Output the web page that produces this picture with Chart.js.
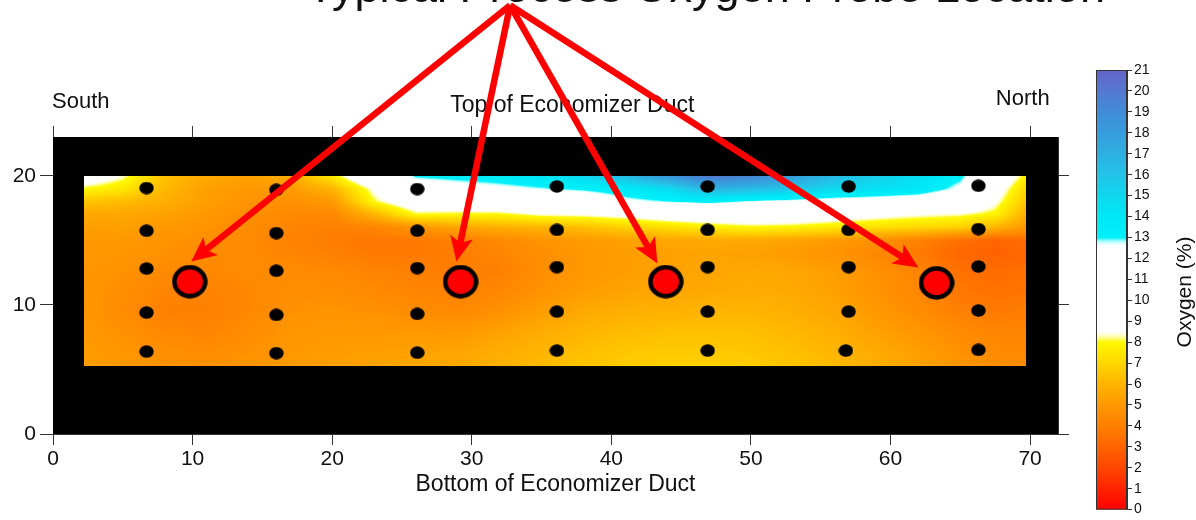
<!DOCTYPE html>
<html>
<head>
<meta charset="utf-8">
<title>Economizer Duct Oxygen</title>
<script src="https://cdn.jsdelivr.net/npm/chart.js@4.4.1/dist/chart.umd.min.js"></script>
<style>
  html, body { margin: 0; padding: 0; background: #fff; }
  #wrap { position: relative; width: 1196px; height: 520px; overflow: hidden; }
  #main { position: absolute; left: 0; top: 0; }
  #bar { position: absolute; left: 1060px; top: 0; }
</style>
</head>
<body>
<div id="wrap">
  <canvas id="main" width="1196" height="520"></canvas>
  <canvas id="bar" width="136" height="520"></canvas>
</div>
<script>
// Contour grid (oxygen %). Rows follow gridY (top to bottom)
const gridX = [2.2, 5, 8, 11, 14, 17, 20, 23, 26, 29, 32, 35, 38, 41, 44, 47, 50, 53, 56, 59, 62, 65, 67.5, 69.7];
const gridY = [20, 19, 18, 17, 16, 15, 14, 12.5, 11, 9.5, 8, 6.5, 5.25];
const oxygen = [
  [9.5, 8.4, 6.4, 5.6, 5.3, 5.8, 7.6, 10.5, 13.1, 13.4, 13.7, 14.2, 15.0, 16.5, 18.5, 20.0, 19.5, 18.0, 16.5, 15.5, 14.5, 13.3, 10.0, 7.8],
  [8.0, 7.5, 6.1, 5.3, 5.0, 5.1, 6.0, 8.6, 11.5, 12.0, 12.4, 12.8, 13.2, 13.8, 14.8, 16.8, 16.5, 15.8, 15.0, 14.5, 14.0, 12.4, 9.2, 7.0],
  [6.5, 6.2, 5.8, 5.2, 4.8, 4.7, 5.0, 8.0, 9.5, 9.8, 10.0, 10.3, 11.0, 12.4, 12.9, 13.3, 12.7, 12.4, 12.0, 11.8, 11.5, 10.5, 8.6, 6.5],
  [5.5, 5.5, 5.3, 5.0, 4.6, 4.4, 4.3, 6.0, 8.0, 7.9, 7.9, 8.4, 8.5, 8.8, 9.3, 9.6, 9.8, 9.6, 9.2, 8.8, 8.5, 8.3, 7.8, 5.8],
  [5.2, 5.3, 5.0, 4.8, 4.5, 4.2, 4.0, 4.2, 4.8, 5.5, 5.8, 6.0, 6.3, 6.8, 7.2, 7.6, 7.9, 7.8, 7.5, 7.2, 7.0, 6.8, 6.0, 5.0],
  [5.0, 5.0, 4.8, 4.6, 4.4, 4.1, 3.9, 3.7, 3.8, 4.0, 4.4, 4.8, 5.1, 5.3, 5.5, 5.6, 5.6, 5.4, 5.1, 4.7, 4.1, 3.4, 3.0, 3.3],
  [5.0, 4.9, 4.7, 4.5, 4.4, 4.2, 4.0, 3.8, 3.8, 3.9, 4.2, 4.6, 5.0, 5.2, 5.3, 5.4, 5.3, 5.1, 4.8, 4.3, 3.8, 3.1, 2.9, 3.1],
  [4.9, 4.7, 4.4, 4.3, 4.4, 4.5, 4.4, 4.2, 4.0, 3.9, 4.0, 4.6, 5.0, 5.2, 5.3, 5.5, 5.6, 5.5, 5.2, 4.7, 4.2, 3.5, 3.3, 3.4],
  [4.9, 4.6, 4.2, 4.1, 4.3, 4.6, 4.6, 4.4, 4.2, 4.1, 4.3, 4.8, 5.2, 5.4, 5.5, 5.6, 5.7, 5.6, 5.3, 4.8, 4.3, 3.7, 3.5, 3.6],
  [4.9, 4.5, 4.0, 4.0, 4.3, 4.7, 4.8, 4.7, 4.5, 4.4, 4.7, 5.2, 5.6, 5.8, 5.9, 6.0, 6.0, 5.8, 5.5, 5.0, 4.5, 4.0, 3.8, 3.9],
  [5.0, 4.7, 4.3, 4.2, 4.5, 4.9, 5.0, 5.0, 5.0, 5.0, 5.3, 5.7, 6.0, 6.2, 6.3, 6.3, 6.3, 6.1, 5.8, 5.3, 4.9, 4.4, 4.2, 4.2],
  [5.1, 4.9, 4.6, 4.5, 4.7, 5.0, 5.1, 5.2, 5.3, 5.4, 5.7, 6.0, 6.3, 6.5, 6.6, 6.6, 6.5, 6.3, 6.0, 5.6, 5.2, 4.7, 4.4, 4.3],
  [5.2, 5.0, 4.8, 4.7, 4.9, 5.1, 5.3, 5.4, 5.5, 5.6, 5.9, 6.2, 6.5, 6.7, 6.8, 6.8, 6.7, 6.5, 6.2, 5.8, 5.4, 4.9, 4.6, 4.5]
];

// Sample grid points (black dots), 5 per traverse
const sampleX = [
  6.7, 6.7, 6.7, 6.7, 6.7,
  16.0, 16.0, 16.0, 16.0, 16.0,
  26.1, 26.1, 26.1, 26.1, 26.1,
  36.1, 36.1, 36.1, 36.1, 36.1,
  46.9, 46.9, 46.9, 46.9, 46.9,
  57.0, 57.0, 57.0, 57.0, 56.8,
  66.3, 66.3, 66.3, 66.3, 66.3
];
const sampleY = [
  19.05, 15.74, 12.81, 9.40, 6.38,
  18.91, 15.56, 12.64, 9.22, 6.26,
  18.97, 15.74, 12.85, 9.30, 6.30,
  19.17, 15.81, 12.92, 9.48, 6.46,
  19.17, 15.81, 12.92, 9.48, 6.46,
  19.17, 15.81, 12.92, 9.48, 6.46,
  19.22, 15.87, 12.97, 9.56, 6.51
];

// Typical process oxygen probe locations
const probeX = [9.8, 29.2, 43.9, 63.3];
const probeY = [11.8, 11.8, 11.8, 11.7];

// Arrow tips and the common start point (chart units)
const arrowTipX = [9.9, 28.9, 43.3, 62.0];
const arrowTipY = [13.35, 13.35, 13.2, 12.9];
const arrowFromX = 32.75;
const arrowFromY = 33.2;

// Duct outline and colour bar range
const ductX = [0, 72];
const ductY = [0, 23];
const colorbarMax = 21;

// colour ramp of the legend (value -> rgb)
const rampStops = [0, 1, 2, 3, 4, 5, 6, 7, 8, 8.25, 8.5, 12.6, 12.8, 13, 14, 15, 16, 17, 18, 19, 20, 21];
const rampRGB = [
  [255, 0, 0], [255, 35, 0], [255, 70, 0], [255, 100, 0], [255, 128, 0], [255, 152, 0],
  [255, 180, 0], [255, 215, 0], [255, 248, 0], [255, 255, 170], [255, 255, 255], [255, 255, 255],
  [185, 255, 255], [0, 240, 250], [0, 232, 245], [15, 215, 238], [35, 195, 232], [45, 175, 225],
  [55, 157, 220], [65, 140, 215], [85, 120, 210], [100, 100, 200]
];

const FONT = '"Liberation Sans", Arial, sans-serif';
Chart.defaults.font.family = FONT;

function rampColor(v) {
  if (v <= rampStops[0]) return rampRGB[0];
  for (let i = 1; i < rampStops.length; i++) {
    if (v <= rampStops[i]) {
      const t = (v - rampStops[i - 1]) / (rampStops[i] - rampStops[i - 1]);
      const a = rampRGB[i - 1], b = rampRGB[i];
      return [a[0] + (b[0] - a[0]) * t, a[1] + (b[1] - a[1]) * t, a[2] + (b[2] - a[2]) * t];
    }
  }
  return rampRGB[rampRGB.length - 1];
}

function clamp(v, lo, hi) { return Math.max(lo, Math.min(hi, v)); }

// bilinear look-up in the read grid
function fieldValue(xv, yv) {
  let c = 0;
  while (c < gridX.length - 2 && xv > gridX[c + 1]) c++;
  let r = 0;
  while (r < gridY.length - 2 && yv < gridY[r + 1]) r++;
  const tx = clamp((xv - gridX[c]) / (gridX[c + 1] - gridX[c]), 0, 1);
  const ty = clamp((gridY[r] - yv) / (gridY[r] - gridY[r + 1]), 0, 1);
  const top = oxygen[r][c] * (1 - tx) + oxygen[r][c + 1] * tx;
  const bot = oxygen[r + 1][c] * (1 - tx) + oxygen[r + 1][c + 1] * tx;
  return top * (1 - ty) + bot * ty;
}

function ellipseMark(w, h, fill, stroke, lw) {
  const c = document.createElement('canvas');
  c.width = w;
  c.height = h;
  const g = c.getContext('2d');
  g.beginPath();
  g.ellipse(w / 2, h / 2, w / 2 - lw / 2 - 0.3, h / 2 - lw / 2 - 0.3, 0, 0, Math.PI * 2);
  g.fillStyle = fill;
  g.fill();
  if (lw > 0) {
    g.lineWidth = lw;
    g.strokeStyle = stroke;
    g.stroke();
  }
  return c;
}

// Draw duct box and the contoured field under the points
const fieldPlugin = {
  id: 'field',
  beforeDatasetsDraw(chart) {
    const { ctx, scales: { x, y } } = chart;
    ctx.save();
    const bx0 = x.getPixelForValue(ductX[0]), bx1 = x.getPixelForValue(ductX[1]);
    const by0 = y.getPixelForValue(ductY[1]), by1 = y.getPixelForValue(ductY[0]);
    ctx.fillStyle = '#000';
    ctx.fillRect(bx0, by0, bx1 - bx0, by1 - by0);

    const px0 = Math.round(x.getPixelForValue(gridX[0]));
    const px1 = Math.round(x.getPixelForValue(gridX[gridX.length - 1]));
    const py0 = Math.round(y.getPixelForValue(gridY[0]));
    const py1 = Math.round(y.getPixelForValue(gridY[gridY.length - 1]));
    const w = px1 - px0, h = py1 - py0;
    const img = ctx.createImageData(w, h);
    for (let j = 0; j < h; j++) {
      const yv = y.getValueForPixel(py0 + j + 0.5);
      for (let i = 0; i < w; i++) {
        const xv = x.getValueForPixel(px0 + i + 0.5);
        const col = rampColor(fieldValue(xv, yv));
        const k = (j * w + i) * 4;
        img.data[k] = col[0];
        img.data[k + 1] = col[1];
        img.data[k + 2] = col[2];
        img.data[k + 3] = 255;
      }
    }
    ctx.putImageData(img, px0, py0);
    ctx.restore();
  }
};

function drawArrow(ctx, x0, y0, x1, y1) {
  const ang = Math.atan2(y1 - y0, x1 - x0);
  const ux = Math.cos(ang), uy = Math.sin(ang);
  const head = 25, half = 11.5, notch = 6;
  ctx.beginPath();
  ctx.moveTo(x0, y0);
  ctx.lineTo(x1 - ux * (head - notch), y1 - uy * (head - notch));
  ctx.stroke();
  ctx.beginPath();
  ctx.moveTo(x1, y1);
  ctx.lineTo(x1 - ux * head - uy * half, y1 - uy * head + ux * half);
  ctx.lineTo(x1 - ux * (head - notch), y1 - uy * (head - notch));
  ctx.lineTo(x1 - ux * head + uy * half, y1 - uy * head - ux * half);
  ctx.closePath();
  ctx.fill();
}

// Title, side captions and arrows on top
const notesPlugin = {
  id: 'notes',
  afterDraw(chart) {
    const { ctx, scales: { x, y } } = chart;
    ctx.save();
    ctx.fillStyle = '#111';
    ctx.textBaseline = 'alphabetic';
    ctx.font = '45px ' + FONT;
    ctx.textAlign = 'left';
    ctx.fillText('Typical Process Oxygen Probe Location', 307, 1.5);

    ctx.font = '22px ' + FONT;
    ctx.fillText('South', x.getPixelForValue(0) - 1, 108);
    ctx.textAlign = 'right';
    ctx.fillText('North', x.getPixelForValue(71.4), 105);
    ctx.textAlign = 'center';
    ctx.font = '23px ' + FONT;
    ctx.fillText('Top of Economizer Duct', x.getPixelForValue(37.2), 112);

    ctx.strokeStyle = '#ff0000';
    ctx.fillStyle = '#ff0000';
    ctx.lineWidth = 6.5;
    ctx.lineCap = 'butt';
    const ox = x.getPixelForValue(arrowFromX), oy = y.getPixelForValue(arrowFromY);
    for (let i = 0; i < arrowTipX.length; i++) {
      drawArrow(ctx, ox, oy, x.getPixelForValue(arrowTipX[i]), y.getPixelForValue(arrowTipY[i]));
    }
    ctx.restore();
  }
};

const axisColor = '#333';
const tickFont = { family: FONT, size: 21 };

new Chart(document.getElementById('main'), {
  type: 'scatter',
  data: {
    datasets: [
      {
        label: 'Sample points',
        data: sampleX.map((v, i) => ({ x: v, y: sampleY[i] })),
        pointStyle: ellipseMark(15, 13, '#000', '#000', 0),
        pointRadius: 7
      },
      {
        label: 'Probe locations',
        data: probeX.map((v, i) => ({ x: v, y: probeY[i] })),
        pointStyle: ellipseMark(36, 34, '#ff0000', '#000', 4.5),
        pointRadius: 17
      }
    ]
  },
  options: {
    responsive: false,
    animation: false,
    events: [],
    layout: { padding: { left: 0, top: 0, right: 0, bottom: 22 } },
    plugins: { legend: { display: false }, tooltip: { enabled: false } },
    scales: {
      x: {
        type: 'linear', position: 'bottom', min: ductX[0], max: ductX[1],
        ticks: { stepSize: 10, includeBounds: false, color: '#111', font: tickFont, padding: 2, maxRotation: 0 },
        grid: { drawOnChartArea: false, tickLength: 11, color: axisColor },
        border: { color: axisColor, width: 1 },
        title: { display: true, text: 'Bottom of Economizer Duct', color: '#111', font: { family: FONT, size: 23 }, padding: 0 },
        afterFit(s) { s.height = 64; }
      },
      x2: {
        type: 'linear', position: 'top', min: ductX[0], max: ductX[1],
        ticks: { stepSize: 10, includeBounds: false, display: false },
        grid: { drawOnChartArea: false, tickLength: 11, color: axisColor },
        border: { color: axisColor, width: 1 },
        afterFit(s) { s.height = 137; }
      },
      y: {
        type: 'linear', position: 'left', min: ductY[0], max: ductY[1],
        ticks: { stepSize: 10, includeBounds: false, color: '#111', font: tickFont, padding: 4 },
        grid: { drawOnChartArea: false, tickLength: 13, color: axisColor },
        border: { color: axisColor, width: 1 },
        afterFit(s) { s.width = 53; }
      },
      y2: {
        type: 'linear', position: 'right', min: ductY[0], max: ductY[1],
        ticks: { stepSize: 10, includeBounds: false, display: false },
        grid: { drawOnChartArea: false, tickLength: 11, color: axisColor },
        border: { color: axisColor, width: 1 },
        afterFit(s) { s.width = 138; }
      }
    }
  },
  plugins: [fieldPlugin, notesPlugin]
});

// Colour scale bar
const barPlugin = {
  id: 'colorbar',
  beforeDatasetsDraw(chart) {
    const { ctx, chartArea: a, scales: { y } } = chart;
    ctx.save();
    const p0 = y.getPixelForValue(0), p1 = y.getPixelForValue(colorbarMax);
    const grad = ctx.createLinearGradient(0, p0, 0, p1);
    rampStops.forEach((v, i) => {
      const c = rampRGB[i];
      grad.addColorStop(v / colorbarMax, 'rgb(' + c.join(',') + ')');
    });
    ctx.fillStyle = grad;
    ctx.fillRect(a.left, p1, a.right - a.left, p0 - p1);
    ctx.strokeStyle = '#333';
    ctx.lineWidth = 1;
    ctx.strokeRect(a.left + 0.5, p1 + 0.5, a.right - a.left - 1, p0 - p1 - 1);

    ctx.translate(125, 292);
    ctx.rotate(-Math.PI / 2);
    ctx.fillStyle = '#111';
    ctx.font = '21px ' + FONT;
    ctx.textAlign = 'center';
    ctx.textBaseline = 'middle';
    ctx.fillText('Oxygen (%)', 0, 0);
    ctx.restore();
  }
};

new Chart(document.getElementById('bar'), {
  type: 'scatter',
  data: { datasets: [] },
  options: {
    responsive: false,
    animation: false,
    events: [],
    layout: { padding: { left: 36, top: 70, right: 0, bottom: 10 } },
    plugins: { legend: { display: false }, tooltip: { enabled: false } },
    scales: {
      x: { type: 'linear', display: false, min: 0, max: 1 },
      y: {
        type: 'linear', position: 'right', min: 0, max: colorbarMax,
        ticks: { stepSize: 1, color: '#111', font: { family: FONT, size: 14 }, padding: 2 },
        grid: { drawOnChartArea: false, tickLength: 5, color: '#333' },
        border: { color: '#333', width: 1 },
        afterFit(s) { s.width = 69; }
      }
    }
  },
  plugins: [barPlugin]
});
</script>
</body>
</html>
